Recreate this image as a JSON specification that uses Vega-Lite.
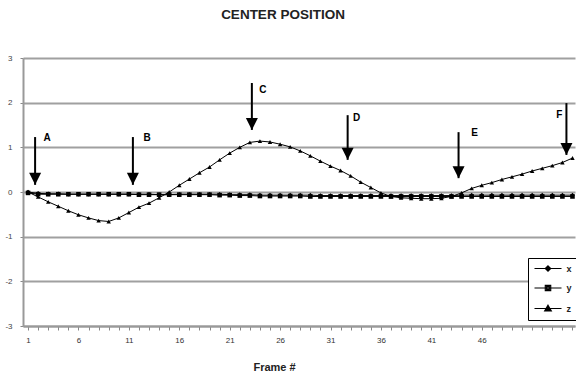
{
  "$schema": "https://vega.github.io/schema/vega-lite/v6.json",
  "width": 552,
  "height": 268,
  "autosize": {"type": "none"},
  "padding": {"left": 23, "top": 58, "right": 1, "bottom": 51},
  "background": "white",
  "config": {"view": {"stroke": null}, "font": "Liberation Sans"},
  "title": {"text": "CENTER POSITION", "fontSize": 13.5, "fontWeight": "bold", "font": "Liberation Sans", "color": "#222", "offset": 33, "dx": -16, "anchor": "middle"},
  "datasets": {
    "pts": [
      {"frame":1,"series":"x","value":0.00},{"frame":2,"series":"x","value":-0.03},{"frame":3,"series":"x","value":-0.04},{"frame":4,"series":"x","value":-0.04},{"frame":5,"series":"x","value":-0.05},{"frame":6,"series":"x","value":-0.05},{"frame":7,"series":"x","value":-0.05},{"frame":8,"series":"x","value":-0.05},{"frame":9,"series":"x","value":-0.05},{"frame":10,"series":"x","value":-0.05},{"frame":11,"series":"x","value":-0.05},{"frame":12,"series":"x","value":-0.05},{"frame":13,"series":"x","value":-0.05},{"frame":14,"series":"x","value":-0.06},{"frame":15,"series":"x","value":-0.06},{"frame":16,"series":"x","value":-0.05},{"frame":17,"series":"x","value":-0.05},{"frame":18,"series":"x","value":-0.05},{"frame":19,"series":"x","value":-0.05},{"frame":20,"series":"x","value":-0.05},{"frame":21,"series":"x","value":-0.06},{"frame":22,"series":"x","value":-0.06},{"frame":23,"series":"x","value":-0.06},{"frame":24,"series":"x","value":-0.07},{"frame":25,"series":"x","value":-0.07},{"frame":26,"series":"x","value":-0.07},{"frame":27,"series":"x","value":-0.07},{"frame":28,"series":"x","value":-0.07},{"frame":29,"series":"x","value":-0.07},{"frame":30,"series":"x","value":-0.08},{"frame":31,"series":"x","value":-0.08},{"frame":32,"series":"x","value":-0.08},{"frame":33,"series":"x","value":-0.08},{"frame":34,"series":"x","value":-0.08},{"frame":35,"series":"x","value":-0.08},{"frame":36,"series":"x","value":-0.08},{"frame":37,"series":"x","value":-0.08},{"frame":38,"series":"x","value":-0.08},{"frame":39,"series":"x","value":-0.08},{"frame":40,"series":"x","value":-0.08},{"frame":41,"series":"x","value":-0.08},{"frame":42,"series":"x","value":-0.08},{"frame":43,"series":"x","value":-0.08},{"frame":44,"series":"x","value":-0.07},{"frame":45,"series":"x","value":-0.07},{"frame":46,"series":"x","value":-0.07},{"frame":47,"series":"x","value":-0.07},{"frame":48,"series":"x","value":-0.07},{"frame":49,"series":"x","value":-0.07},{"frame":50,"series":"x","value":-0.07},{"frame":51,"series":"x","value":-0.07},{"frame":52,"series":"x","value":-0.07},{"frame":53,"series":"x","value":-0.07},{"frame":54,"series":"x","value":-0.07},{"frame":55,"series":"x","value":-0.07},
      {"frame":1,"series":"y","value":-0.02},{"frame":2,"series":"y","value":-0.05},{"frame":3,"series":"y","value":-0.05},{"frame":4,"series":"y","value":-0.05},{"frame":5,"series":"y","value":-0.05},{"frame":6,"series":"y","value":-0.05},{"frame":7,"series":"y","value":-0.05},{"frame":8,"series":"y","value":-0.05},{"frame":9,"series":"y","value":-0.05},{"frame":10,"series":"y","value":-0.05},{"frame":11,"series":"y","value":-0.05},{"frame":12,"series":"y","value":-0.06},{"frame":13,"series":"y","value":-0.06},{"frame":14,"series":"y","value":-0.06},{"frame":15,"series":"y","value":-0.06},{"frame":16,"series":"y","value":-0.06},{"frame":17,"series":"y","value":-0.06},{"frame":18,"series":"y","value":-0.06},{"frame":19,"series":"y","value":-0.06},{"frame":20,"series":"y","value":-0.07},{"frame":21,"series":"y","value":-0.07},{"frame":22,"series":"y","value":-0.08},{"frame":23,"series":"y","value":-0.08},{"frame":24,"series":"y","value":-0.09},{"frame":25,"series":"y","value":-0.09},{"frame":26,"series":"y","value":-0.09},{"frame":27,"series":"y","value":-0.09},{"frame":28,"series":"y","value":-0.09},{"frame":29,"series":"y","value":-0.10},{"frame":30,"series":"y","value":-0.10},{"frame":31,"series":"y","value":-0.10},{"frame":32,"series":"y","value":-0.10},{"frame":33,"series":"y","value":-0.10},{"frame":34,"series":"y","value":-0.10},{"frame":35,"series":"y","value":-0.10},{"frame":36,"series":"y","value":-0.10},{"frame":37,"series":"y","value":-0.10},{"frame":38,"series":"y","value":-0.10},{"frame":39,"series":"y","value":-0.10},{"frame":40,"series":"y","value":-0.10},{"frame":41,"series":"y","value":-0.10},{"frame":42,"series":"y","value":-0.10},{"frame":43,"series":"y","value":-0.10},{"frame":44,"series":"y","value":-0.10},{"frame":45,"series":"y","value":-0.10},{"frame":46,"series":"y","value":-0.10},{"frame":47,"series":"y","value":-0.10},{"frame":48,"series":"y","value":-0.10},{"frame":49,"series":"y","value":-0.10},{"frame":50,"series":"y","value":-0.10},{"frame":51,"series":"y","value":-0.10},{"frame":52,"series":"y","value":-0.10},{"frame":53,"series":"y","value":-0.10},{"frame":54,"series":"y","value":-0.10},{"frame":55,"series":"y","value":-0.10},
      {"frame":1,"series":"z","value":0.00},{"frame":2,"series":"z","value":-0.11},{"frame":3,"series":"z","value":-0.22},{"frame":4,"series":"z","value":-0.32},{"frame":5,"series":"z","value":-0.42},{"frame":6,"series":"z","value":-0.51},{"frame":7,"series":"z","value":-0.58},{"frame":8,"series":"z","value":-0.64},{"frame":9,"series":"z","value":-0.66},{"frame":10,"series":"z","value":-0.58},{"frame":11,"series":"z","value":-0.46},{"frame":12,"series":"z","value":-0.34},{"frame":13,"series":"z","value":-0.25},{"frame":14,"series":"z","value":-0.13},{"frame":15,"series":"z","value":0.00},{"frame":16,"series":"z","value":0.15},{"frame":17,"series":"z","value":0.29},{"frame":18,"series":"z","value":0.43},{"frame":19,"series":"z","value":0.56},{"frame":20,"series":"z","value":0.72},{"frame":21,"series":"z","value":0.87},{"frame":22,"series":"z","value":1.00},{"frame":23,"series":"z","value":1.11},{"frame":24,"series":"z","value":1.14},{"frame":25,"series":"z","value":1.12},{"frame":26,"series":"z","value":1.07},{"frame":27,"series":"z","value":1.01},{"frame":28,"series":"z","value":0.92},{"frame":29,"series":"z","value":0.81},{"frame":30,"series":"z","value":0.69},{"frame":31,"series":"z","value":0.58},{"frame":32,"series":"z","value":0.48},{"frame":33,"series":"z","value":0.36},{"frame":34,"series":"z","value":0.22},{"frame":35,"series":"z","value":0.10},{"frame":36,"series":"z","value":-0.02},{"frame":37,"series":"z","value":-0.10},{"frame":38,"series":"z","value":-0.13},{"frame":39,"series":"z","value":-0.14},{"frame":40,"series":"z","value":-0.15},{"frame":41,"series":"z","value":-0.15},{"frame":42,"series":"z","value":-0.14},{"frame":43,"series":"z","value":-0.10},{"frame":44,"series":"z","value":-0.02},{"frame":45,"series":"z","value":0.08},{"frame":46,"series":"z","value":0.15},{"frame":47,"series":"z","value":0.21},{"frame":48,"series":"z","value":0.28},{"frame":49,"series":"z","value":0.34},{"frame":50,"series":"z","value":0.40},{"frame":51,"series":"z","value":0.47},{"frame":52,"series":"z","value":0.53},{"frame":53,"series":"z","value":0.59},{"frame":54,"series":"z","value":0.66},{"frame":55,"series":"z","value":0.76}
    ],
    "arrows": [
      {"label":"A","frame":1.7,"top":1.23,"tip":0.16,"labelFrame":2.9,"labelY":1.2},
      {"label":"B","frame":11.4,"top":1.23,"tip":0.16,"labelFrame":12.8,"labelY":1.2},
      {"label":"C","frame":23.2,"top":2.44,"tip":1.39,"labelFrame":24.3,"labelY":2.28},
      {"label":"D","frame":32.7,"top":1.72,"tip":0.72,"labelFrame":33.6,"labelY":1.66},
      {"label":"E","frame":43.7,"top":1.34,"tip":0.31,"labelFrame":45.3,"labelY":1.32},
      {"label":"F","frame":54.4,"top":1.99,"tip":0.83,"labelFrame":53.7,"labelY":1.72}
    ]
  },
  "encoding": {
    "x": {"field": "frame", "type": "quantitative",
      "scale": {"domain": [0.5, 55.25], "nice": false, "zero": false},
      "axis": {"values": [1,2,3,4,5,6,7,8,9,10,11,12,13,14,15,16,17,18,19,20,21,22,23,24,25,26,27,28,29,30,31,32,33,34,35,36,37,38,39,40,41,42,43,44,45,46,47,48,49,50,51,52,53,54,55],
        "labelExpr": "(datum.value-1)%5==0 && datum.value<=46 ? datum.label : ''",
        "labelOverlap": false, "labelFlush": false, "grid": false,
        "domainColor": "#999", "domainWidth": 2, "tickColor": "#888", "tickSize": 4,
        "labelFontSize": 8, "labelColor": "#333", "labelPadding": 6,
        "title": "Frame #", "titleFontSize": 11, "titleFontWeight": "bold", "titleColor": "#222",
        "titleX": 251, "titleY": 41, "titleBaseline": "middle"}},
    "y": {"field": "value", "type": "quantitative",
      "scale": {"domain": [-3, 3], "nice": false},
      "axis": {"values": [-3,-2,-1,0,1,2,3], "labelExpr": "replace(datum.label, '−', '-')", "grid": true, "gridColor": "#a0a0a0", "gridWidth": 2,
        "domainColor": "#999", "domainWidth": 2, "tickSize": 3, "tickColor": "#888",
        "labelFontSize": 8, "labelColor": "#444", "labelPadding": 8, "title": null}}
  },
  "layer": [
    {"data": {"name": "pts"}, "mark": {"type": "line", "color": "black", "strokeWidth": 1}, "encoding": {"detail": {"field": "series"}}},
    {"data": {"name": "pts"}, "mark": {"type": "point", "filled": true, "color": "black", "opacity": 1},
      "encoding": {
        "shape": {"field": "series", "type": "nominal", "scale": {"domain": ["x","y","z"], "range": ["diamond","square","triangle-up"]}, "legend": null},
        "size": {"field": "series", "type": "nominal", "scale": {"domain": ["x","y","z"], "range": [22, 20, 36]}, "legend": null}}},
    {"data": {"name": "pts"}, "transform": [{"filter": "datum.frame == 1"}],
      "mark": {"type": "point", "filled": false, "color": "black", "strokeWidth": 1, "opacity": 0, "size": 36},
      "encoding": {
        "shape": {"field": "series", "type": "nominal",
          "scale": {"domain": ["x","y","z"], "range": [
            "M-4.5,0L4.5,0M0,-0.9L0.9,0L0,0.9L-0.9,0ZM0,-0.45L0.45,0L0,0.45L-0.45,0Z",
            "M-4.5,0L4.5,0M-0.9,-0.9L0.9,-0.9L0.9,0.9L-0.9,0.9ZM-0.45,-0.45L0.45,-0.45L0.45,0.45L-0.45,0.45Z",
            "M-4.5,0L4.5,0M0,-1.1L1.1,0.8L-1.1,0.8ZM0,-0.5L0.6,0.5L-0.6,0.5ZM0,0L0.1,0.5L-0.1,0.5Z"]},
          "legend": {"orient": "none", "legendX": 505, "legendY": 200, "title": null,
            "strokeColor": "black", "fillColor": "white", "padding": 6,
            "symbolOpacity": 1, "symbolFillColor": "black", "symbolStrokeColor": "black", "symbolStrokeWidth": 1.2, "symbolSize": 36,
            "symbolOffset": 9.5, "labelOffset": 14, "labelFontSize": 9, "labelFontWeight": "bold", "labelColor": "#222", "rowPadding": 8.5}}}},
    {"data": {"name": "arrows"}, "mark": {"type": "rule", "color": "black", "strokeWidth": 2},
      "encoding": {"x": {"field": "frame", "type": "quantitative"}, "y": {"field": "top", "type": "quantitative"}, "y2": {"field": "tip"}}},
    {"data": {"name": "arrows"}, "mark": {"type": "point", "shape": "M-1,-2L1,-2L0,0Z", "size": 144, "filled": true, "color": "black", "opacity": 1},
      "encoding": {"x": {"field": "frame", "type": "quantitative"}, "y": {"field": "tip", "type": "quantitative"}}},
    {"data": {"name": "arrows"}, "mark": {"type": "text", "fontSize": 10, "fontWeight": "bold", "color": "black", "align": "center", "baseline": "middle"},
      "encoding": {"x": {"field": "labelFrame", "type": "quantitative"}, "y": {"field": "labelY", "type": "quantitative"}, "text": {"field": "label"}}}
  ],
  "resolve": {"scale": {"shape": "independent", "size": "independent"}}
}
